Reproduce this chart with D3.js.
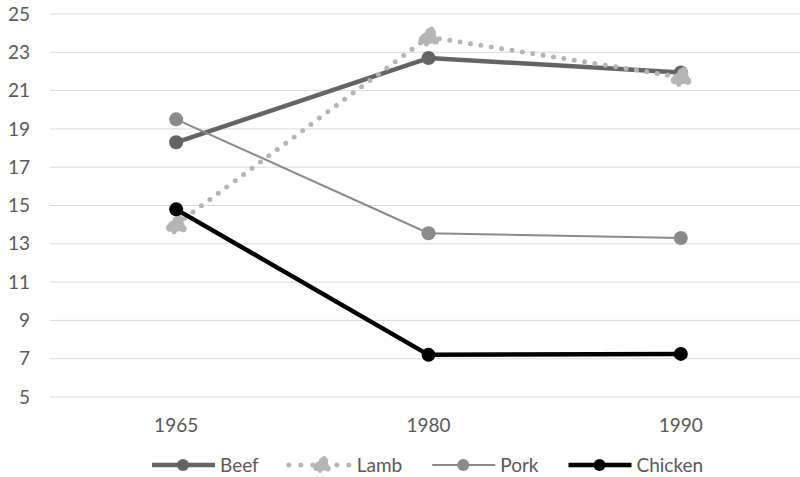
<!DOCTYPE html>
<html><head><meta charset="utf-8">
<script src="https://cdn.jsdelivr.net/npm/d3@7/dist/d3.min.js"></script>
<style>body{margin:0;background:#fff}svg{display:block}text{font-family:Lato,"Open Sans",sans-serif}</style>
</head><body><svg id="c" width="800" height="477"></svg>
<script>
const categories = ["1965", "1980", "1990"];
const beef = [18.3, 22.7, 21.95];
const lamb = [14.0, 23.8, 21.7];
const pork = [19.5, 13.55, 13.3];
const chicken = [14.8, 7.2, 7.25];
const yTicks = [5, 7, 9, 11, 13, 15, 17, 19, 21, 23, 25];

const series = [
  {name: "Beef", values: beef, color: "#646464", width: 4.5, dash: null, marker: "circle"},
  {name: "Lamb", values: lamb, color: "#b5b5b5", width: 5, dash: "0 10.5", marker: "blob"},
  {name: "Pork", values: pork, color: "#8a8a8a", width: 2, dash: null, marker: "circle"},
  {name: "Chicken", values: chicken, color: "#000000", width: 4.5, dash: null, marker: "circle"}
];

const svg = d3.select("#c");
const plotLeft = 50, plotRight = 807, plotTop = 14, plotBottom = 397;
const x = d3.scaleBand().domain(categories).range([plotLeft, plotRight]);
const y = d3.scaleLinear().domain([5, 25]).range([plotBottom, plotTop]);
const cx = d => x(d) + x.bandwidth() / 2;
const fontSize = 19;

// gridlines
svg.append("g").selectAll("line").data(yTicks).join("line")
  .attr("x1", plotLeft).attr("x2", 800).attr("y1", d => y(d)).attr("y2", d => y(d))
  .attr("stroke", "#d9d9d9").attr("stroke-width", 1);

// y labels
svg.append("g").selectAll("text").data(yTicks).join("text")
  .attr("x", 30).attr("y", d => y(d)).attr("dy", "0.35em").attr("text-anchor", "end")
  .attr("font-size", fontSize).attr("fill", "#595959").text(d => d);

// x labels
svg.append("g").selectAll("text").data(categories).join("text")
  .attr("x", d => cx(d)).attr("y", 432).attr("text-anchor", "middle")
  .attr("font-size", fontSize).attr("fill", "#595959").text(d => d);

function blob(g, px, py, color, k) {
  const b = g.append("g").attr("transform", `translate(${px},${py}) scale(${k})`).attr("fill", color);
  b.append("ellipse").attr("cx", 0).attr("cy", 1).attr("rx", 8.5).attr("ry", 6);
  b.append("circle").attr("cx", 2).attr("cy", -4).attr("r", 5.5);
  b.append("circle").attr("cx", -6).attr("cy", 3).attr("r", 4);
  b.append("circle").attr("cx", 7).attr("cy", 4).attr("r", 3.5);
  b.append("circle").attr("cx", 3).attr("cy", -8).attr("r", 2.5);
  b.append("circle").attr("cx", -2).attr("cy", 7).attr("r", 2.5);
}

const line = d3.line().x((d, i) => cx(categories[i])).y(d => y(d));

series.forEach(s => {
  const g = svg.append("g");
  const p = g.append("path").datum(s.values).attr("d", line)
    .attr("fill", "none").attr("stroke", s.color).attr("stroke-width", s.width)
    .attr("stroke-linejoin", "round");
  if (s.dash) p.attr("stroke-dasharray", s.dash).attr("stroke-linecap", "round");
  s.values.forEach((v, i) => {
    if (s.marker === "circle") {
      g.append("circle").attr("cx", cx(categories[i])).attr("cy", y(v)).attr("r", 7).attr("fill", s.color);
    } else {
      blob(g, cx(categories[i]), y(v), s.color, 1);
    }
  });
});

// legend
const ly = 465;
let lx = 152;
series.forEach((s, i) => {
  const g = svg.append("g").attr("transform", `translate(${lx},${ly})`);
  const l = g.append("line").attr("x1", 0).attr("x2", 63).attr("y1", 0).attr("y2", 0)
    .attr("stroke", s.color).attr("stroke-width", s.width);
  if (s.dash) l.attr("stroke-dasharray", "0 12").attr("stroke-linecap", "round");
  if (s.marker === "circle") g.append("circle").attr("cx", 31).attr("cy", 0).attr("r", 6).attr("fill", s.color);
  else blob(g, 33, 0, s.color, 0.85);
  const t = g.append("text").attr("x", 68).attr("y", 0).attr("dy", "0.35em")
    .attr("font-size", fontSize).attr("fill", "#595959").text(s.name);
  lx += 68 + t.node().getComputedTextLength() + 30;
});
</script></body></html>
